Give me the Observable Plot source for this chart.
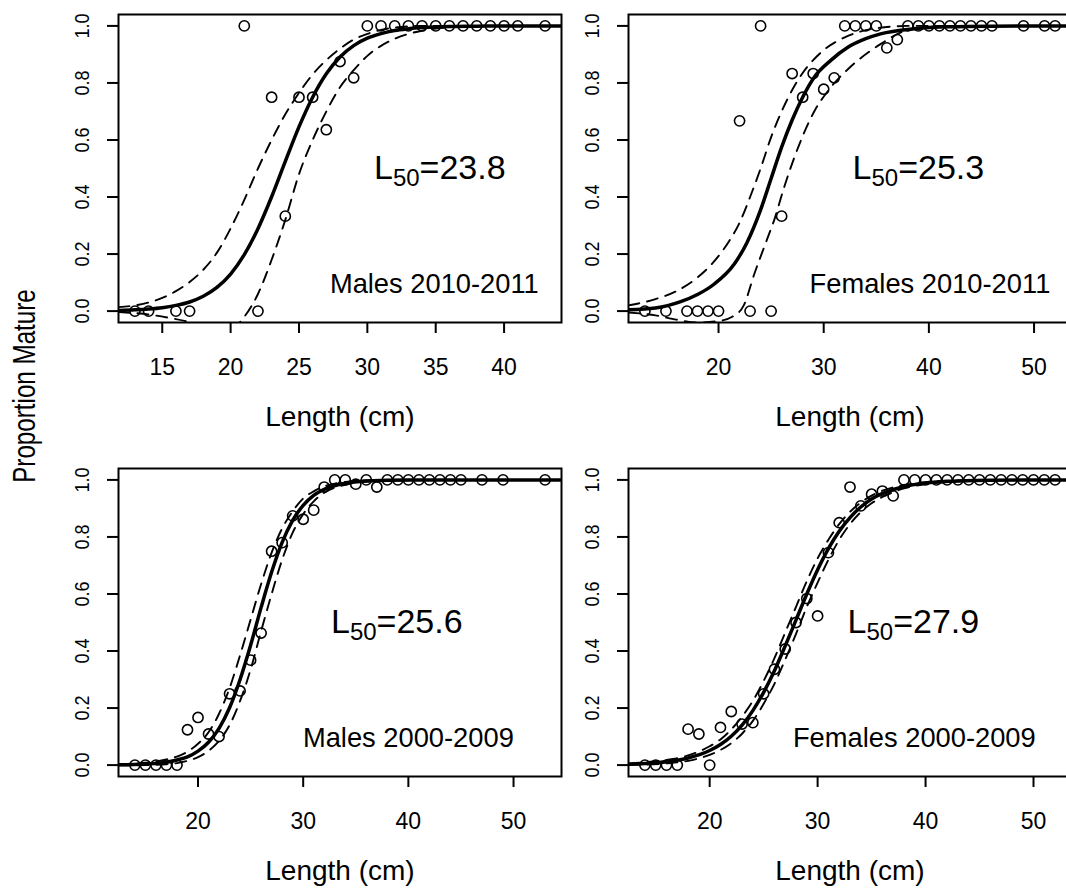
<!DOCTYPE html>
<html>
<head>
<meta charset="utf-8">
<script src="https://cdn.jsdelivr.net/npm/d3@7"></script>
<script src="https://cdn.jsdelivr.net/npm/@observablehq/plot@0.6"></script>
<style>
  html, body { margin: 0; padding: 0; background: white; }
  #root { position: relative; width: 1066px; height: 888px; overflow: hidden; background: white; font-family: "Liberation Sans", Arial, sans-serif; }
  .panel { position: absolute; width: 566px; height: 442px; }
  .panel svg { max-width: none !important; }
  #ylab { position: absolute; left: 24px; top: 386px; transform: translate(-50%, -50%) rotate(-90deg) scale(0.78, 1); font-size: 31px; white-space: nowrap; color: #000; line-height: 1; }
</style>
</head>
<body>
<div id="root">
  <div id="ylab">Proportion Mature</div>
</div>
<script>
// ---------- shared ----------
const yTicks = [0, 0.2, 0.4, 0.6, 0.8, 1.0];
const axisTitle = "Length (cm)";

// ---------- Males 2010-2011 ----------
const tlLabel = "Males 2010-2011";
const tlL50 = "23.8";
const tlXTicks = [15, 20, 25, 30, 35, 40];
const tlLen  = [13,14,16,17,21,22,23,24,25,26,27,28,29,30,31,32,33,34,35,36,37,38,39,40,41,43];
const tlProp = [0,0,0,0,1,0,0.75,0.333,0.75,0.75,0.636,0.875,0.818,1,1,1,1,1,1,1,1,1,1,1,1,1];
const tlFitLen = [11.8,13,14,15,16,17,18,19,20,21,22,23,24,25,26,27,28,29,30,31,32,33,34,36,38,40,44.2];
const tlFitP   = [0.0025,0.0045,0.0074,0.012,0.02,0.032,0.052,0.083,0.13,0.198,0.289,0.401,0.525,0.646,0.75,0.832,0.891,0.931,0.957,0.973,0.984,0.99,0.994,0.998,0.999,1,1];
const tlUpLen = [11.8,13,14,15,16,17,18,19,20,21,22,23,24,25,26,27,28,29,30,31,32,34,44.2];
const tlUpP   = [0.014,0.02,0.03,0.046,0.07,0.102,0.145,0.205,0.29,0.39,0.50,0.60,0.69,0.765,0.83,0.88,0.92,0.952,0.972,0.986,0.994,1,1];
const tlLoLen = [11.8,14,16,18,19.5,20.4,21,22,23,24,25,26,27,28,29,30,31,32,33,34,36,38,44.2];
const tlLoP   = [-0.003,-0.012,-0.028,-0.048,-0.06,-0.05,-0.02,0.06,0.18,0.32,0.48,0.60,0.70,0.785,0.845,0.895,0.93,0.955,0.972,0.983,0.995,1,1];

// ---------- Females 2010-2011 ----------
const trLabel = "Females 2010-2011";
const trL50 = "25.3";
const trXTicks = [20, 30, 40, 50];
const trLen  = [13,15,17,18,19,20,22,23,24,25,26,27,28,29,30,31,32,33,34,35,36,37,38,39,40,41,42,43,44,45,46,49,51,52];
const trProp = [0,0,0,0,0,0,0.667,0,1,0,0.333,0.833,0.75,0.833,0.778,0.818,1,1,1,1,0.923,0.952,1,1,1,1,1,1,1,1,1,1,1,1];
const trFitLen = [11.44,14,16.4,18,19.6,21.5,22.7,24,25,26,27,28,29.1,30.7,32.3,34,35.4,38.6,42,46,53.56];
const trFitP   = [0.005,0.011,0.033,0.058,0.095,0.165,0.24,0.355,0.465,0.575,0.67,0.75,0.82,0.88,0.925,0.955,0.972,0.99,0.997,0.999,1];
const trUpLen = [11.44,14,16,18,19.6,21,22,23,24,25,26,27,28,29,30,32,34,36,38,53.56];
const trUpP   = [0.02,0.042,0.07,0.118,0.175,0.245,0.31,0.40,0.50,0.61,0.70,0.775,0.835,0.88,0.915,0.96,0.985,0.996,1,1];
const trLoLen = [11.44,14,16,18,20,21.3,22.4,23.4,24.7,25.3,26.2,27.2,29.1,30.4,32.3,35.4,38,42,53.56];
const trLoP   = [-0.005,-0.015,-0.03,-0.04,-0.035,-0.02,0.02,0.13,0.26,0.32,0.43,0.538,0.70,0.772,0.848,0.936,0.985,1,1];

// ---------- Males 2000-2009 ----------
const blLabel = "Males 2000-2009";
const blL50 = "25.6";
const blXTicks = [20, 30, 40, 50];
const blLen  = [14,15,16,17,18,19,20,21,22,23,24,25,26,27,28,29,30,31,32,33,34,35,36,37,38,39,40,41,42,43,44,45,47,49,53];
const blProp = [0,0,0,0,0,0.124,0.167,0.109,0.1,0.25,0.26,0.368,0.463,0.75,0.78,0.874,0.862,0.894,0.975,1,1,0.985,1,0.975,1,1,1,1,1,1,1,1,1,1,1];
const blFitLen = [12.44,15,17,18,19,20,21,22,23,24,25,26,27,28,29,30,31,32,34,36,40,54.56];
const blFitP   = [0.001,0.004,0.01,0.018,0.029,0.049,0.08,0.129,0.201,0.30,0.42,0.553,0.677,0.781,0.858,0.911,0.946,0.967,0.988,0.996,1,1];
const blUpP    = [0.003,0.008,0.02,0.03,0.047,0.075,0.115,0.18,0.27,0.385,0.51,0.635,0.745,0.83,0.89,0.935,0.96,0.977,0.993,0.998,1,1];
const blLoP    = [-0.001,0,0.003,0.007,0.015,0.028,0.05,0.085,0.14,0.225,0.335,0.47,0.6,0.72,0.815,0.88,0.925,0.955,0.983,0.994,0.999,1];

// ---------- Females 2000-2009 ----------
const brLabel = "Females 2000-2009";
const brL50 = "27.9";
const brXTicks = [20, 30, 40, 50];
const brLen  = [14,15,16,17,18,19,20,21,22,23,24,25,26,27,28,29,30,31,32,33,34,35,36,37,38,39,40,41,42,43,44,45,46,47,48,49,50,51,52];
const brProp = [0,0,0,0,0.126,0.109,0,0.132,0.188,0.144,0.149,0.25,0.336,0.407,0.5,0.584,0.523,0.745,0.85,0.975,0.909,0.95,0.961,0.944,1,1,1,1,1,1,1,1,1,1,1,1,1,1,1];
const brFitLen = [12.48,14,16,18,20,21,22,23,24,25,26,27,28,29,30,31,32,33,34,35,36,38,40,43,46,53.52];
const brFitP   = [0.003,0.006,0.012,0.025,0.051,0.072,0.101,0.14,0.191,0.255,0.331,0.418,0.509,0.60,0.685,0.759,0.82,0.868,0.905,0.933,0.952,0.977,0.989,0.996,0.999,1];
const brUpP    = [0.006,0.01,0.018,0.034,0.066,0.09,0.125,0.17,0.225,0.295,0.375,0.465,0.555,0.645,0.725,0.79,0.845,0.888,0.92,0.945,0.962,0.982,0.992,0.998,1,1];
const brLoP    = [0.001,0.002,0.006,0.015,0.036,0.053,0.077,0.11,0.155,0.215,0.285,0.37,0.46,0.555,0.64,0.72,0.79,0.845,0.887,0.918,0.94,0.97,0.985,0.995,0.999,1];

// ---------- drawing ----------
const zip = (xs, ys) => xs.map((x, i) => ({x, y: ys[i]}));
function pad(ext) { const r = ext[1] - ext[0]; return [ext[0] - 0.04 * r, ext[1] + 0.04 * r]; }

function panel(cfg) {
  const pts = zip(cfg.len, cfg.prop);
  const lineOpts = {x: "x", y: "y", stroke: "black", curve: "monotone-x", clip: true};
  const svg = Plot.plot({
    width: 566, height: 442,
    marginLeft: 118, marginTop: 14, marginRight: 5, marginBottom: 120,
    x: {domain: pad(d3.extent(cfg.len))},
    y: {domain: [-0.04, 1.04]},
    style: {fontFamily: "'Liberation Sans', Arial, sans-serif", background: "transparent", maxWidth: "none", overflow: "visible", color: "black"},
    marks: [
      Plot.line(zip(cfg.upLen, cfg.upP), {...lineOpts, strokeWidth: 1.9, strokeDasharray: "11,8"}),
      Plot.line(zip(cfg.loLen, cfg.loP), {...lineOpts, strokeWidth: 1.9, strokeDasharray: "11,8"}),
      Plot.line(zip(cfg.fitLen, cfg.fitP), {...lineOpts, strokeWidth: 3.5}),
      Plot.dot(pts, {x: "x", y: "y", r: 5.1, stroke: "black", strokeWidth: 1.6, fill: "none"}),
      Plot.frame({stroke: "black", strokeWidth: 2}),
      Plot.axisY(yTicks, {tickSize: 11, fill: "none", stroke: "black", strokeWidth: 2, label: null}),
      Plot.text(yTicks, {y: d => d, frameAnchor: "left", text: d => d.toFixed(1), rotate: -90, dx: -36, fontSize: 20.5, textAnchor: "middle", lineAnchor: "middle", fill: "black"}),
      Plot.axisX(cfg.xTicks, {tickSize: 11, tickPadding: 25, fontSize: 23, stroke: "black", fill: "black", strokeWidth: 2, label: null}),
      Plot.text([axisTitle], {frameAnchor: "bottom", dy: 95, fontSize: 28, lineAnchor: "middle", fill: "black"}),
      Plot.text(["L50=" + cfg.l50], {x: () => cfg.l50Pos[0], y: () => cfg.l50Pos[1], fontSize: 34, lineAnchor: "middle", fill: "black"}),
      Plot.text([cfg.label], {x: () => cfg.labelPos[0], y: () => cfg.labelPos[1], fontSize: 27.3, lineAnchor: "middle", fill: "black"})
    ]
  });
  const ns = "http://www.w3.org/2000/svg";
  svg.querySelectorAll("text").forEach(t => {
    const s = t.textContent;
    if (s.startsWith("L50=")) {
      t.textContent = "";
      const a = document.createElementNS(ns, "tspan"); a.textContent = "L";
      const b = document.createElementNS(ns, "tspan"); b.textContent = "50"; b.setAttribute("font-size", "24"); b.setAttribute("dy", "7");
      const c = document.createElementNS(ns, "tspan"); c.textContent = s.slice(3); c.setAttribute("dy", "-7");
      t.append(a, b, c);
    } else if (/^[01]\.\d$/.test(s)) {
      const tr = t.getAttribute("transform") || "";
      t.setAttribute("transform", tr + " scale(0.88,1)");
    }
  });
  const div = document.createElement("div");
  div.className = "panel";
  div.style.left = cfg.left + "px";
  div.style.top = cfg.top + "px";
  div.appendChild(svg);
  document.getElementById("root").appendChild(div);
}

panel({left: 0, top: 0, len: tlLen, prop: tlProp, fitLen: tlFitLen, fitP: tlFitP, upLen: tlUpLen, upP: tlUpP, loLen: tlLoLen, loP: tlLoP,
       xTicks: tlXTicks, l50: tlL50, label: tlLabel, l50Pos: [35.3, 0.5], labelPos: [34.9, 0.095]});
panel({left: 510, top: 0, len: trLen, prop: trProp, fitLen: trFitLen, fitP: trFitP, upLen: trUpLen, upP: trUpP, loLen: trLoLen, loP: trLoP,
       xTicks: trXTicks, l50: trL50, label: trLabel, l50Pos: [39.0, 0.5], labelPos: [40.1, 0.095]});
panel({left: 0, top: 454, len: blLen, prop: blProp, fitLen: blFitLen, fitP: blFitP, upLen: blFitLen, upP: blUpP, loLen: blFitLen, loP: blLoP,
       xTicks: blXTicks, l50: blL50, label: blLabel, l50Pos: [38.9, 0.5], labelPos: [40.0, 0.095]});
panel({left: 510, top: 454, len: brLen, prop: brProp, fitLen: brFitLen, fitP: brFitP, upLen: brFitLen, upP: brUpP, loLen: brFitLen, loP: brLoP,
       xTicks: brXTicks, l50: brL50, label: brLabel, l50Pos: [38.87, 0.5], labelPos: [38.96, 0.095]});
</script>
</body>
</html>
